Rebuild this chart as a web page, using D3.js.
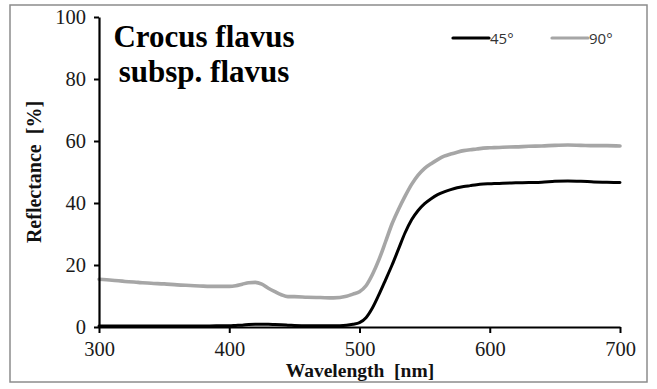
<!DOCTYPE html>
<html>
<head>
<meta charset="utf-8">
<script src="https://cdn.jsdelivr.net/npm/d3@7"></script>
<style>
  html, body { margin: 0; padding: 0; background: #fff; }
  svg { display: block; }
</style>
</head>
<body>
<svg id="chart" width="657" height="389"></svg>
<script>
// Reflectance spectra of Crocus flavus subsp. flavus at two illumination angles
const wavelengths = [300,310,320,330,340,350,360,370,380,390,400,405,410,415,420,425,430,435,440,445,450,460,470,480,490,495,500,505,510,515,520,525,530,535,540,545,550,555,560,565,570,575,580,585,590,595,600,610,620,630,640,650,660,670,680,690,700];
const refl45 = [0.3,0.3,0.3,0.3,0.3,0.3,0.3,0.3,0.3,0.4,0.4,0.5,0.6,0.8,0.9,0.9,0.9,0.8,0.7,0.6,0.5,0.4,0.4,0.4,0.6,0.9,1.4,3.0,6.2,10.5,15.2,20.0,25.2,30.4,34.6,37.6,39.8,41.4,42.7,43.6,44.3,44.9,45.3,45.6,45.9,46.1,46.2,46.4,46.5,46.6,46.7,47.0,47.1,47.0,46.8,46.7,46.6];
const refl90 = [15.4,15.1,14.7,14.4,14.1,13.9,13.6,13.4,13.2,13.1,13.1,13.3,13.8,14.3,14.4,13.8,12.5,11.4,10.4,9.8,9.8,9.6,9.5,9.4,9.9,10.6,11.4,13.3,17.0,21.8,27.5,33.3,38.0,42.2,46.0,49.0,51.2,52.7,54.0,55.1,55.8,56.4,56.9,57.2,57.4,57.7,57.8,58.0,58.1,58.3,58.4,58.6,58.7,58.6,58.5,58.5,58.4];
const seriesNames = ["45°", "90°"];
const seriesColors = ["#000000", "#a6a6a6"];
const xTicks = [300, 400, 500, 600, 700];
const yTicks = [0, 20, 40, 60, 80, 100];

const svg = d3.select("#chart");

// outer frame
svg.append("rect")
  .attr("x", 10).attr("y", 5)
  .attr("width", 637).attr("height", 377)
  .attr("fill", "none")
  .attr("stroke", "#8c8c8c")
  .attr("stroke-width", 1.5);

const x = d3.scaleLinear().domain([300, 700]).range([99, 620]);
const y = d3.scaleLinear().domain([0, 100]).range([327, 17]);

const serif = "'Liberation Serif', 'Times New Roman', serif";

// series lines
const series = [refl45, refl90].map((vals, i) => ({
  name: seriesNames[i],
  color: seriesColors[i],
  points: wavelengths.map((w, j) => [w, vals[j]])
}));

const line = d3.line()
  .x(d => x(d[0]))
  .y(d => y(d[1]))
  .curve(d3.curveMonotoneX);

// draw grey first so black sits on top
[series[1], series[0]].forEach(s => {
  svg.append("path")
    .datum(s.points)
    .attr("fill", "none")
    .attr("stroke", s.color)
    .attr("stroke-width", s.name === "90°" ? 3.6 : 3)
    .attr("stroke-linejoin", "round")
    .attr("stroke-linecap", "round")
    .attr("d", line);
});

// axes
const xAxis = svg.append("g")
  .attr("transform", `translate(0,${y(0)})`)
  .call(d3.axisBottom(x).tickValues(xTicks).tickSize(6).tickSizeOuter(0).tickPadding(8));
const yAxis = svg.append("g")
  .attr("transform", `translate(${x(300)},0)`)
  .call(d3.axisLeft(y).tickValues(yTicks).tickSize(5).tickSizeOuter(0).tickPadding(8));

[xAxis, yAxis].forEach(g => {
  g.select(".domain").attr("stroke", "#000").attr("stroke-width", 2.2);
  g.selectAll(".tick line").attr("stroke", "#000").attr("stroke-width", 2);
  g.selectAll(".tick text")
    .attr("font-family", serif)
    .attr("font-size", 20.5)
    .attr("fill", "#1a1a1a");
});

// axis titles
svg.append("text")
  .attr("x", 360).attr("y", 377)
  .attr("text-anchor", "middle")
  .attr("font-family", serif)
  .attr("font-weight", "bold")
  .attr("font-size", 19.5)
  .attr("fill", "#111")
  .style("white-space", "pre")
  .text("Wavelength  [nm]");

svg.append("text")
  .attr("transform", "translate(41,172) rotate(-90)")
  .attr("text-anchor", "middle")
  .attr("font-family", serif)
  .attr("font-weight", "bold")
  .attr("font-size", 20)
  .attr("fill", "#111")
  .style("white-space", "pre")
  .text("Reflectance  [%]");

// chart title
const title = svg.append("text")
  .attr("text-anchor", "middle")
  .attr("font-family", serif)
  .attr("font-weight", "bold")
  .attr("font-size", 31)
  .attr("fill", "#000");
title.append("tspan").attr("x", 204).attr("y", 47).text("Crocus flavus");
title.append("tspan").attr("x", 204).attr("y", 82).text("subsp. flavus");

// legend
const legendItems = [
  { s: series[0], x0: 453 },
  { s: series[1], x0: 552 }
];
legendItems.forEach(item => {
  const g = svg.append("g").attr("transform", `translate(${item.x0},38)`);
  g.append("line")
    .attr("x1", 0).attr("x2", 36)
    .attr("y1", 0).attr("y2", 0)
    .attr("stroke", item.s.color)
    .attr("stroke-width", 3.2)
    .attr("stroke-linecap", "round");
  g.append("text")
    .attr("x", 37).attr("y", 5.5)
    .attr("font-family", "'Open Sans', 'DejaVu Sans', sans-serif")
    .attr("font-size", 15)
    .attr("fill", "#333")
    .text(item.s.name);
});
</script>
</body>
</html>
